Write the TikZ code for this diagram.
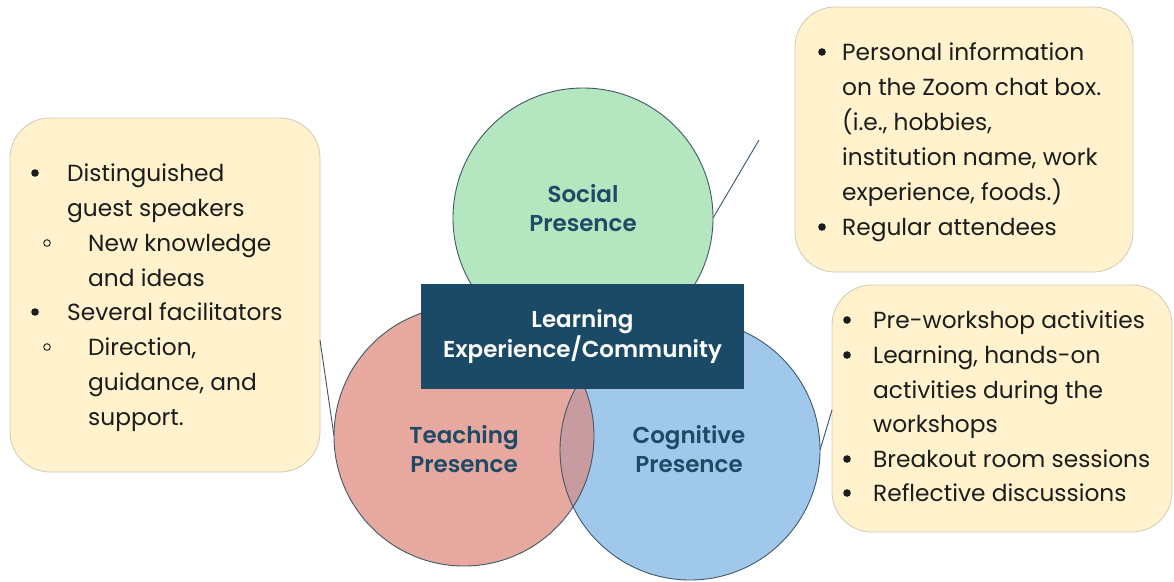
\documentclass[tikz,border=0pt]{standalone}
\usepackage{fontspec}
\setmainfont{Poppins}[BoldFont={Poppins SemiBold}]
\definecolor{mint}{HTML}{B4E6BF}
\definecolor{rose}{HTML}{E6A89F}
\definecolor{sky}{HTML}{A0C8EB}
\definecolor{lens}{HTML}{C89BA0}
\definecolor{navy}{HTML}{1B4A66}
\definecolor{labelc}{HTML}{1E4A66}
\definecolor{cream}{HTML}{FFF2CC}
\definecolor{creamline}{HTML}{D2CAB6}
\definecolor{rim}{HTML}{3F5A69}
\definecolor{ink}{HTML}{1C1C1C}
\definecolor{leader}{HTML}{3A5666}
\begin{document}
\begin{tikzpicture}[x=1pt,y=-1pt,
  disc/.style={circle, minimum size=260pt, inner sep=0pt, outer sep=0pt},
  rimline/.style={draw=rim, line width=0.9pt},
  note/.style={draw=creamline, fill=cream, line width=0.8pt, rounded corners=40pt},
  txt/.style={anchor=base west, inner sep=0pt, text=ink, font=\fontsize{23.3}{30}\selectfont},
  lab/.style={align=center, inner sep=0pt, text=labelc, font=\bfseries\fontsize{23}{28.5}\selectfont},
  core/.style={fill=navy, minimum width=323pt, minimum height=105pt, inner sep=0pt,
    align=center, text=white, font=\bfseries\fontsize{23}{30}\selectfont},
  pin/.style={draw=leader, line width=0.9pt},
  dot/.style={fill=ink},
  ring/.style={draw=ink, line width=0.9pt}
]
\useasboundingbox (0,0) rectangle (1174,581);
\fill[white] (0,0) rectangle (1174,581);

% callout boxes
\draw[note] (10,118) rectangle (320,472);
\node[inner sep=0pt, minimum width=310pt, minimum height=354pt] (lbox) at (165,295) {};
\draw[note] (795,7) rectangle (1133,272);
\node[inner sep=0pt, minimum width=338pt, minimum height=265pt] (tbox) at (964,139.5) {};
\draw[note] (832,285) rectangle (1172,532);
\node[inner sep=0pt, minimum width=340pt, minimum height=247pt] (bbox) at (1002,408.5) {};

% the three presences
\node[disc, fill=mint, rimline] (social) at (583,218) {};
\node[disc, fill=sky] (cog) at (690,450) {};
\node[disc, fill=rose] (teach) at (464,436) {};
\begin{scope}
  \clip (teach.center) circle (130pt);
  \fill[lens] (cog.center) circle (130pt);
\end{scope}
\draw[rimline] (cog.center) circle (130pt);
\draw[rimline] (teach.center) circle (130pt);

% leader lines
\coordinate (spin) at (759,140);
\coordinate (lpin) at (320,340);
\coordinate (rpin) at (832,410);
\draw[pin] (social.east) -- (spin);
\draw[pin] (lpin) -- (teach.west);
\draw[pin] (cog.east) -- (rpin);

% centre banner
\node[core] (centre) at (582.5,336.5) {Learning\\Experience/Community};

% circle labels
\node[lab] (socl) at (583,208) {Social\\Presence};
\node[lab] (teachl) at (464,449) {Teaching\\Presence};
\node[lab] (cogl) at (689,449) {Cognitive\\Presence};

% left list
\fill[dot] (35,173) circle (3.8pt);
\node[txt] (l1) at (67,181) {Distinguished};
\node[txt] (l2) at (67,216) {guest speakers};
\draw[ring] (47,243) circle (3.3pt);
\node[txt] (l3) at (88,251) {New knowledge};
\node[txt] (l4) at (88,286) {and ideas};
\fill[dot] (35,312) circle (3.8pt);
\node[txt] (l5) at (67,320) {Several facilitators};
\draw[ring] (47,347) circle (3.3pt);
\node[txt] (l6) at (88,355) {Direction,};
\node[txt] (l7) at (88,390) {guidance, and};
\node[txt] (l8) at (88,425) {support.};

% top right list
\fill[dot] (822,52) circle (3.8pt);
\node[txt] (a1) at (842,60) {Personal information};
\node[txt] (a2) at (842,95) {on the Zoom chat box.};
\node[txt] (a3) at (842,130) {(i.e., hobbies,};
\node[txt] (a4) at (842,165) {institution name, work};
\node[txt] (a5) at (842,200) {experience, foods.)};
\fill[dot] (822,227) circle (3.8pt);
\node[txt] (a6) at (842,235) {Regular attendees};

% bottom right list
\fill[dot] (847,320) circle (3.8pt);
\node[txt] (b1) at (873,328) {Pre-workshop activities};
\fill[dot] (847,355) circle (3.8pt);
\node[txt] (b2) at (873,363) {Learning, hands-on};
\node[txt] (b3) at (873,398) {activities during the};
\node[txt] (b4) at (873,432) {workshops};
\fill[dot] (847,459) circle (3.8pt);
\node[txt] (b5) at (873,467) {Breakout room sessions};
\fill[dot] (847,493) circle (3.8pt);
\node[txt] (b6) at (873,501) {Reflective discussions};
\end{tikzpicture}
\end{document}
